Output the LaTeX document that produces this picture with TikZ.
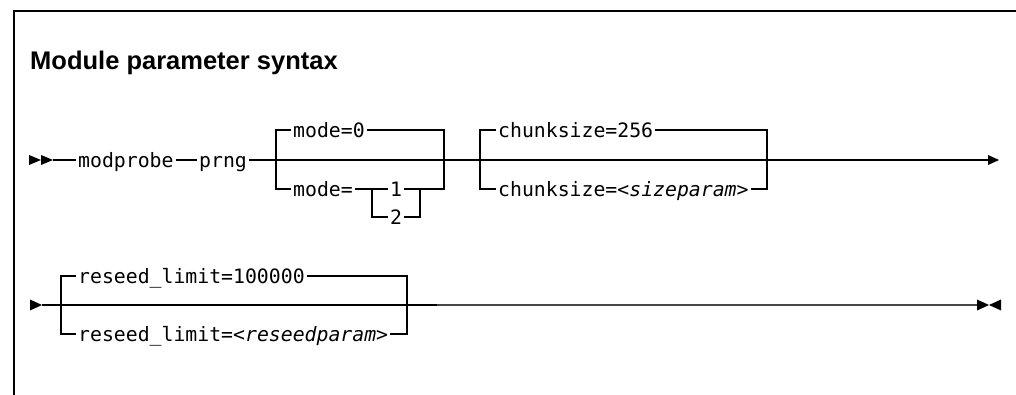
\documentclass[tikz,border=0pt]{standalone}
\usepackage{fontspec}
\setmainfont{Liberation Sans}
\newfontfamily\synfont{DejaVu Sans Mono}
\begin{document}
\begin{tikzpicture}[x=1pt,y=-1pt,
  rail/.style={line width=1.3pt, black},
  railgray/.style={line width=1.8pt, black!72},
  tipfill/.style={fill=black},
  kw/.style={font=\synfont\fontsize{19.8pt}{22pt}\selectfont, inner xsep=2pt, inner ysep=0pt,
             text height=15pt, text depth=0pt, anchor=west},
  titlestyle/.style={anchor=base west, inner sep=0pt, font=\bfseries\fontsize{25.5pt}{30pt}\selectfont}]
\useasboundingbox (0,0) rectangle (1016,395);
% frame
\draw[rail] (1017,11) -- (14,11) -- (14,396);
\node[titlestyle] (title) at (30,70) {Module parameter syntax};

% ---------- row 1 ----------
\fill[tipfill] (29,155) -- (41,160) -- (29,165) -- cycle;
\fill[tipfill] (41,155) -- (53,160) -- (41,165) -- cycle;
\coordinate (a0) at (53,160);
\node[kw] (mp) at (76,160) {modprobe};
\node[kw] (pr) at (197,160) {prng};
\coordinate (end1) at (988,160);
\draw[rail] (a0) -- (mp.west);
\draw[rail] (mp.east) -- (pr.west);
\draw[rail] (pr.east) -- (end1);
\fill[tipfill] (988,155) -- (999,160) -- (988,165) -- cycle;

% mode block
\node[kw] (m0) at (291,130) {mode=0};
\node[kw] (m1) at (291,189) {mode=};
\node[kw,anchor=center] (n1) at (396,189) {1};
\node[kw,anchor=center] (n2) at (396,217) {2};
\draw[rail] (m0.west) -- (276,130) -- (276,189) -- (m1.west);
\draw[rail] (m0.east) -- (444,130) -- (444,189) -- (n1.east);
\draw[rail] (m1.east) -- (n1.west);
\draw[rail] (372,189) -- (372,217) -- (n2.west);
\draw[rail] (n2.east) -- (420,217) -- (420,189);

% chunksize block
\node[kw] (c0) at (496,130) {chunksize=256};
\node[kw] (c1) at (496,189) {chunksize=<{\itshape sizeparam}>};
\draw[rail] (c0.west) -- (480,130) -- (480,189) -- (c1.west);
\draw[rail] (c0.east) -- (767,130) -- (767,189) -- (c1.east);

% ---------- row 2 ----------
\fill[tipfill] (30,299.5) -- (42,305) -- (30,310.5) -- cycle;
\coordinate (b0) at (42,305);
\coordinate (b1) at (413,305);
\coordinate (b2) at (437,305);
\coordinate (end2) at (977,305);
\node[kw] (r0) at (76,276) {reseed\_limit=100000};
\node[kw] (r1) at (76,334) {reseed\_limit=<{\itshape reseedparam}>};
\draw[rail] (r0.west) -- (61,276) -- (61,334) -- (r1.west);
\draw[rail] (r0.east) -- (407,276) -- (407,334) -- (r1.east);
\draw[rail] (b0) -- (b1);
\draw[line width=1.8pt, black] (b1) -- (b2);
\draw[railgray] (b2) -- (end2);
\fill[tipfill] (977,299.5) -- (989,305) -- (977,310.5) -- cycle;
\fill[tipfill] (1001,299.5) -- (989,305) -- (1001,310.5) -- cycle;
\end{tikzpicture}
\end{document}
